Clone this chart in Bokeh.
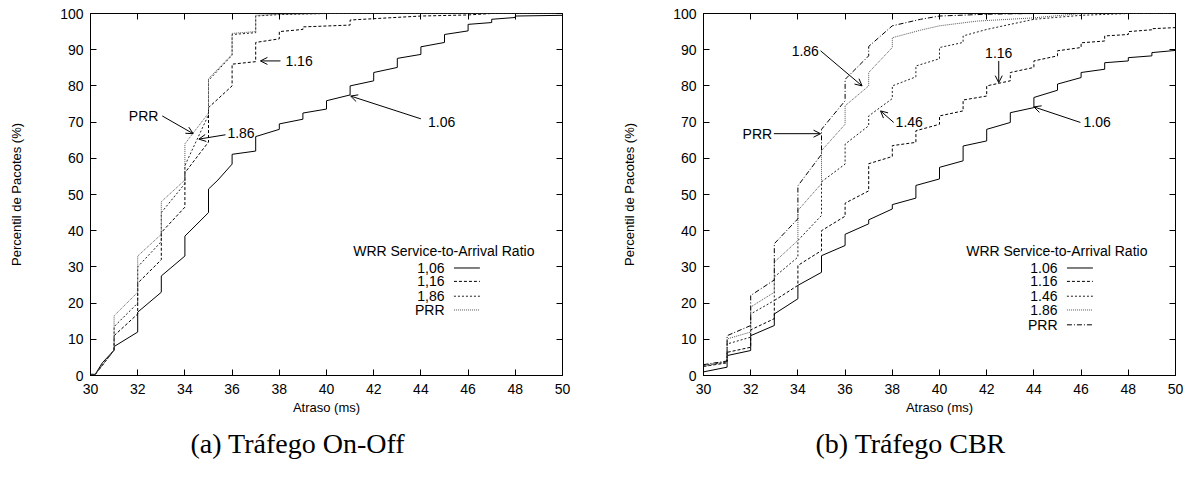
from bokeh.plotting import figure
from bokeh.layouts import row
from bokeh.models import Range1d, LinearAxis, Arrow, OpenHead, Title, FixedTicker
from bokeh.core.properties import value
from bokeh.embed import file_html
from bokeh.resources import INLINE

# ---------------- data: (a) On-Off traffic ----------------
a_x_106 = [30.0, 30.2, 30.5, 31.0, 31.0, 32.0, 32.0, 33.0, 33.0, 34.0, 34.0, 35.0, 35.0, 35.4, 36.0, 36.0,
           37.0, 37.0, 38.0, 38.0, 39.0, 39.0, 40.0, 40.0, 41.0, 41.0, 42.0, 42.0, 43.0, 43.0, 44.0, 44.0,
           45.0, 45.0, 46.0, 46.0, 47.0, 47.0, 48.0, 48.0, 50.0]
a_y_106 = [0.3, 0.3, 3.5, 7.0, 8.0, 12.0, 17.5, 23.0, 27.5, 33.0, 38.5, 45.0, 51.5, 54.0, 58.4, 61.1,
           62.0, 66.0, 68.0, 69.5, 70.8, 72.5, 73.6, 75.9, 77.5, 80.0, 81.4, 83.7, 85.1, 87.6, 88.7, 90.8,
           92.0, 94.2, 95.2, 97.0, 97.5, 98.4, 98.9, 99.3, 99.5]

a_x_116 = [30.0, 30.2, 31.0, 31.0, 32.0, 32.0, 33.0, 33.0, 34.0, 34.0, 35.0, 35.0, 36.0, 36.0, 37.0, 37.0,
           38.0, 38.0, 39.0, 39.0, 41.0, 41.0, 44.0, 46.0, 47.0, 50.0]
a_y_116 = [0.3, 0.3, 7.0, 11.0, 17.0, 25.5, 32.0, 39.5, 46.5, 56.0, 64.5, 74.0, 80.0, 86.0, 86.7, 92.0,
           93.0, 95.0, 95.6, 96.3, 96.8, 98.2, 99.3, 99.6, 100.0, 100.0]

a_x_186 = [30.0, 30.2, 31.0, 31.0, 32.0, 32.0, 33.0, 33.0, 34.0, 34.0, 35.0, 35.0, 36.0, 36.0, 37.0, 37.0,
           38.0, 40.0, 50.0]
a_y_186 = [0.3, 0.3, 7.0, 13.5, 20.0, 30.0, 37.0, 45.0, 53.0, 58.0, 72.0, 81.5, 88.5, 94.2, 94.7, 99.3,
           99.7, 100.0, 100.0]

a_x_prr = [30.0, 30.2, 31.0, 31.0, 32.0, 32.0, 33.0, 33.0, 34.0, 34.0, 35.0, 35.0, 36.0, 36.0, 37.0, 37.0,
           38.0, 40.0, 50.0]
a_y_prr = [0.3, 0.3, 7.0, 16.5, 23.0, 33.0, 39.0, 48.0, 54.0, 64.0, 72.5, 82.0, 88.7, 94.5, 95.0, 99.5,
           99.8, 100.0, 100.0]

# ---------------- data: (b) CBR traffic ----------------
b_x_106 = [30, 31, 31, 32, 32, 33, 33, 34, 34, 35, 35, 36, 36, 37, 37, 38, 38, 39, 39, 40, 40,
           41, 41, 42, 42, 43, 43, 44, 44, 45, 45, 46, 46, 47, 47, 48, 48, 49, 49, 50]
b_y_106 = [1.0, 2.3, 5.5, 6.9, 11.0, 13.8, 17.0, 21.2, 24.9, 28.5, 33.1, 35.9, 39.0, 41.9, 43.0, 46.0,
           47.2, 49.0, 52.5, 54.3, 57.5, 59.3, 63.4, 64.8, 68.0, 69.9, 72.6, 74.0, 76.8, 78.8, 80.5, 82.3,
           83.7, 84.6, 86.4, 86.9, 87.8, 88.3, 89.2, 89.8]

b_x_116 = [30, 31, 31, 32, 32, 33, 33, 34, 34, 35, 35, 36, 36, 37, 37, 38, 38, 39, 39, 40, 40,
           41, 41, 42, 42, 43, 43, 44, 44, 45, 45, 46, 46, 47, 47, 48, 48, 49, 49, 50]
b_y_116 = [2.5, 3.5, 6.4, 7.8, 12.6, 15.7, 20.7, 24.9, 30.4, 34.5, 40.0, 44.0, 47.6, 51.0, 58.5, 60.5,
           63.5, 64.4, 67.6, 69.4, 71.7, 73.1, 76.1, 77.2, 80.0, 81.4, 83.7, 85.1, 86.9, 88.3, 89.7, 90.6,
           91.9, 92.4, 93.8, 94.2, 95.0, 95.5, 95.8, 96.1]

b_x_146 = [30, 31, 31, 32, 32, 33, 33, 34, 34, 35, 35, 36, 36, 37, 37, 38, 38, 39, 39, 40, 40,
           41, 41, 42, 44, 46, 48, 50]
b_y_146 = [2.8, 3.7, 8.7, 10.6, 17.0, 20.7, 27.2, 32.7, 37.3, 44.2, 53.5, 58.4, 63.9, 69.0, 71.7, 76.5,
           80.0, 82.5, 85.5, 87.5, 90.6, 92.0, 93.8, 95.6, 98.4, 99.5, 100.0, 100.0]

b_x_186 = [30, 31, 31, 32, 32, 33, 33, 34, 34, 35, 35, 36, 36, 37, 37, 38, 38, 39.2, 40, 41.6, 44, 46, 50]
b_y_186 = [2.5, 3.8, 10.1, 12.0, 18.9, 23.0, 31.3, 37.3, 45.6, 53.0, 62.1, 69.4, 74.5, 80.0, 83.7, 90.6,
           93.3, 95.4, 96.6, 97.9, 98.8, 100.0, 100.0]

b_x_prr = [30, 31, 31, 32, 32, 33, 33, 34, 34, 35, 35, 36, 36, 37, 37, 38, 39.2, 40, 42, 44, 50]
b_y_prr = [3.0, 4.0, 11.0, 13.8, 22.1, 26.4, 36.4, 43.3, 52.4, 61.1, 68.0, 75.9, 81.8, 88.3, 90.9, 96.6,
           98.4, 99.3, 99.8, 100.0, 100.0]

x_ticks = [30, 32, 34, 36, 38, 40, 42, 44, 46, 48, 50]
y_ticks = [0, 10, 20, 30, 40, 50, 60, 70, 80, 90, 100]

legend_title = "WRR Service-to-Arrival Ratio"
a_labels = ["1,06", "1,16", "1,86", "PRR"]
b_labels = ["1.06", "1.16", "1.46", "1.86", "PRR"]
captions = ["(a) Tráfego On-Off", "(b) Tráfego CBR"]

FONT = "Liberation Sans"
SERIF = "Liberation Serif"


def make_fig(border_left, border_right):
    p = figure(frame_width=472, frame_height=362, x_range=Range1d(30, 50), y_range=Range1d(0, 100),
               output_backend="svg", toolbar_location=None, title=None,
               min_border_left=border_left, min_border_right=border_right,
               min_border_top=13, min_border_bottom=100)
    p.grid.visible = False
    p.outline_line_color = "black"
    p.outline_line_width = 1
    p.background_fill_color = "white"
    p.border_fill_color = "white"
    for ax in (p.xaxis[0], p.yaxis[0]):
        ax.major_tick_in = 6
        ax.major_tick_out = 0
        ax.minor_tick_line_color = None
        ax.axis_line_color = "black"
        ax.major_tick_line_color = "black"
        ax.major_label_text_font = FONT
        ax.major_label_text_font_size = "14px"
        ax.major_label_text_color = "black"
        ax.axis_label_text_font = FONT
        ax.axis_label_text_font_size = "13px"
        ax.axis_label_text_font_style = "normal"
        ax.axis_label_text_color = "black"
    p.xaxis[0].ticker = FixedTicker(ticks=x_ticks)
    p.yaxis[0].ticker = FixedTicker(ticks=y_ticks)
    p.xaxis[0].axis_label = "Atraso (ms)"
    p.yaxis[0].axis_label = "Percentil de Pacotes (%)"
    p.xaxis[0].major_label_standoff = 8
    p.xaxis[0].axis_label_standoff = 3
    p.yaxis[0].major_label_standoff = 7
    p.yaxis[0].axis_label_standoff = 33
    # mirrored ticks on top and right (no labels)
    for loc, tk in (("above", x_ticks), ("right", y_ticks)):
        ax = LinearAxis(ticker=FixedTicker(ticks=tk), major_tick_in=6, major_tick_out=0,
                        major_label_text_font_size="1px", major_label_text_color=None,
                        major_label_text_alpha=0, major_label_standoff=0,
                        axis_line_color=None, minor_tick_line_color=None)
        p.add_layout(ax, loc)
    return p


def add_legend(p, labels, styles):
    ys = [29.7, 26.0, 21.9, 18.1, 14.0][:len(labels)]
    p.text(x=[44.97], y=[34.5], text=[legend_title], text_font=value(FONT),
           text_font_size=value("14px"), text_align="center", text_baseline="middle", text_color="black")
    p.text(x=[45.0] * len(labels), y=ys, text=labels, text_font=value(FONT),
           text_font_size=value("14px"), text_align="right", text_baseline="middle", text_color="black")
    for yy, (dash, col) in zip(ys, styles):
        p.segment(x0=[45.4], y0=[yy], x1=[46.5], y1=[yy], line_color=col, line_dash=dash, line_width=1)


def annotate(p, notes):
    for (txt, tx, ty, align, ax0, ay0, ax1, ay1) in notes:
        p.text(x=[tx], y=[ty], text=[txt], text_font=value(FONT), text_font_size=value("14px"),
               text_align=align, text_baseline="middle", text_color="black")
        p.add_layout(Arrow(end=OpenHead(size=7, line_width=1, line_color="black"),
                           x_start=ax0, y_start=ay0, x_end=ax1, y_end=ay1,
                           line_width=1, line_color="black"))


def add_caption(p, text, offset):
    p.add_layout(Title(text=text, align="left", offset=offset, text_font=SERIF,
                       text_font_size="28px", text_font_style="normal", text_color="black",
                       standoff=17), "below")


# ---------------- figure (a) ----------------
pa = make_fig(90, 46)
styles_a = [("solid", "black"), ("3 2", "black"), ("2 2", "#222222"), ("1 1", "#555555")]
pa.line(a_x_106, a_y_106, line_color=styles_a[0][1], line_dash=styles_a[0][0], line_width=1)
pa.line(a_x_116, a_y_116, line_color=styles_a[1][1], line_dash=styles_a[1][0], line_width=1)
pa.line(a_x_186, a_y_186, line_color=styles_a[2][1], line_dash=styles_a[2][0], line_width=1)
pa.line(a_x_prr, a_y_prr, line_color=styles_a[3][1], line_dash=styles_a[3][0], line_width=1)
add_legend(pa, a_labels, styles_a)
annotate(pa, [
    ("1.16", 38.26, 86.9, "left", 38.05, 86.9, 37.2, 86.9),
    ("1.06", 44.3, 69.9, "left", 44.0, 70.9, 41.02, 77.2),
    ("PRR", 32.25, 71.7, "center", 33.04, 71.7, 34.35, 66.8),
    ("1.86", 35.8, 67.1, "left", 35.72, 66.5, 34.59, 65.3),
])
add_caption(pa, captions[0], 100)

# ---------------- figure (b) ----------------
pb = make_fig(95, 10)
styles_b = [("solid", "black"), ("3 2", "black"), ("2 2", "#222222"), ("1 1", "#555555"), ("5 2 1 2", "black")]
pb.line(b_x_106, b_y_106, line_color=styles_b[0][1], line_dash=styles_b[0][0], line_width=1)
pb.line(b_x_116, b_y_116, line_color=styles_b[1][1], line_dash=styles_b[1][0], line_width=1)
pb.line(b_x_146, b_y_146, line_color=styles_b[2][1], line_dash=styles_b[2][0], line_width=1)
pb.line(b_x_186, b_y_186, line_color=styles_b[3][1], line_dash=styles_b[3][0], line_width=1)
pb.line(b_x_prr, b_y_prr, line_color=styles_b[4][1], line_dash=styles_b[4][0], line_width=1)
add_legend(pb, b_labels, styles_b)
annotate(pb, [
    ("1.86", 34.89, 89.7, "right", 34.96, 89.7, 36.72, 80.0),
    ("PRR", 32.91, 66.8, "right", 32.98, 66.8, 34.96, 66.8),
    ("1.46", 38.14, 69.9, "left", 38.06, 69.9, 37.5, 73.1),
    ("1.16", 42.51, 89.2, "center", 42.51, 86.9, 42.51, 80.9),
    ("1.06", 46.1, 69.9, "left", 45.97, 69.9, 44.0, 74.2),
])
add_caption(pb, captions[1], 112)

layout = row(pa, pb, spacing=0)
open("out.html", "w").write(file_html(layout, INLINE))
